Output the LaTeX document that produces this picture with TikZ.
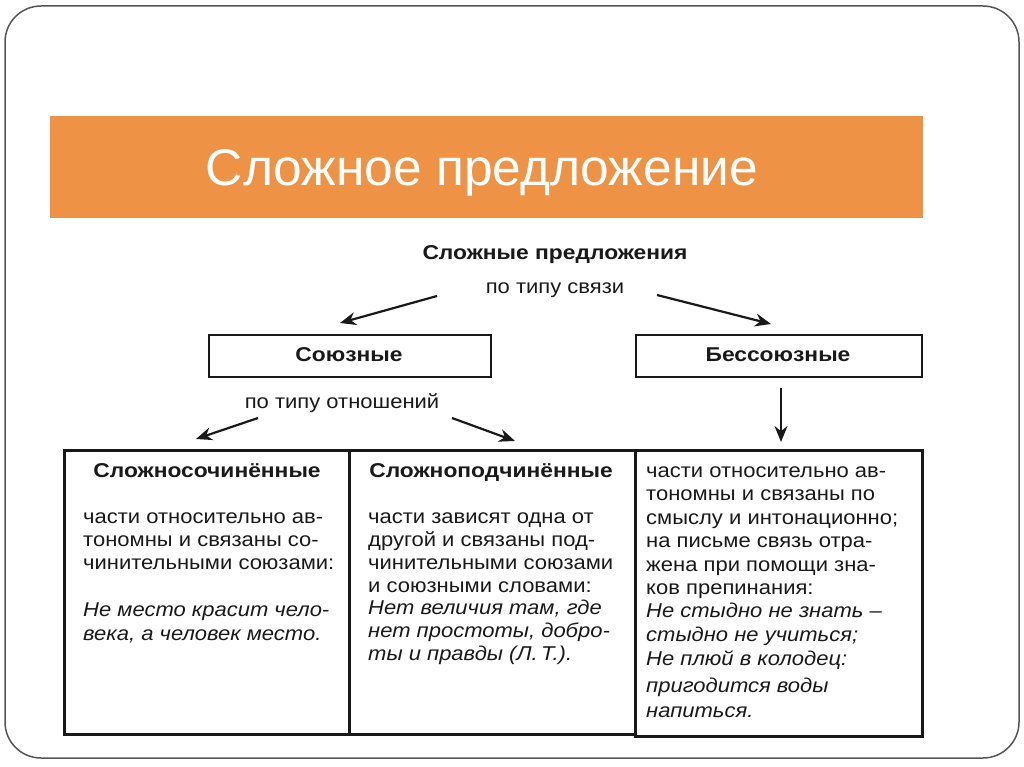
\documentclass[tikz,border=0pt]{standalone}
\usepackage{fontspec}
\setmainfont{Liberation Sans}
\newfontfamily\scan[FakeStretch=1.1]{Liberation Sans}
\newfontfamily\scanb[FakeStretch=1.14]{Liberation Sans}
\usetikzlibrary{arrows.meta}
\definecolor{orangebar}{RGB}{238,147,69}
\definecolor{ink}{RGB}{25,25,25}
\definecolor{framegray}{RGB}{85,85,85}
\begin{document}
\begin{tikzpicture}[x=1pt,y=-1pt,
  cell/.style={draw=ink, line width=2.6pt, inner sep=0pt, anchor=north west},
  lbox/.style={draw=ink, line width=2.2pt, inner sep=0pt, anchor=north west},
  arr/.style={draw=ink, line width=2.2pt, -{Stealth[length=16pt,width=13pt]}},
  txt/.style={font=\scan\fontsize{20}{23}\selectfont, text=ink, inner sep=0pt, anchor=base west},
  itx/.style={txt, font=\scan\itshape\fontsize{20}{23}\selectfont},
  hdr/.style={font=\scanb\bfseries\fontsize{20}{23}\selectfont, text=ink, inner sep=0pt, anchor=base},
  lbl/.style={font=\scan\fontsize{20}{23}\selectfont, text=ink, inner sep=0pt, anchor=base}]
\useasboundingbox (0,0) rectangle (1024,767);
\draw[framegray, line width=1.5pt, rounded corners=36pt] (5,6) rectangle (1019,758);
\node[fill=orangebar, minimum width=873pt, minimum height=102pt, inner sep=0pt, anchor=north west] (bar) at (50,116) {};
\node[text=white, font=\fontsize{51.5}{60}\selectfont, inner sep=0pt] (title) at (482,173) {Сложное предложение};

% top labels
\node[hdr] (root) at (555,259) {Сложные предложения};
\node[lbl] (svyaz) at (555,293) {по типу связи};
\node[lbox, minimum width=282pt, minimum height=42pt] (soyuz) at (208,334) {};
\node[hdr] (soyuzt) at (349,361) {Союзные};
\node[lbox, minimum width=286pt, minimum height=42pt] (bessoyuz) at (635,334) {};
\node[hdr] (bessoyuzt) at (778,361) {Бессоюзные};
\node[lbl] (otnosh) at (342,408) {по типу отношений};

% table cells
\node[cell, minimum width=285pt, minimum height=284pt] (c1) at (63,449) {};
\node[cell, minimum width=286pt, minimum height=284pt] (c2) at (348,449) {};
\node[cell, minimum width=287pt, minimum height=286pt] (c3) at (634,449) {};

% arrows
\coordinate (a1s) at (437,296); \coordinate (a1e) at (340,323);
\coordinate (a2s) at (657,295); \coordinate (a2e) at (771,324);
\coordinate (a3s) at (258,418); \coordinate (a3e) at (196,439);
\coordinate (a4s) at (452,418); \coordinate (a4e) at (515,441);
\coordinate (a5s) at (781,388); \coordinate (a5e) at (781,442);
\draw[arr] (a1s) -- (a1e);
\draw[arr] (a2s) -- (a2e);
\draw[arr] (a3s) -- (a3e);
\draw[arr] (a4s) -- (a4e);
\draw[arr] (a5s) -- (a5e);

% column 1
\node[hdr] (h1) at (207,477) {Сложносочинённые};
\foreach \s [count=\i] in {{части относительно ав-},{тономны и связаны со-},{чинительными союзами:}}
  \node[txt] (p\i) at (83,{523+23*(\i-1)}) {\s};
\node[itx] (e1) at (83,616) {Не место красит чело-};
\node[itx] (e2) at (83,640) {века, а человек место.};

% column 2
\node[hdr] (h2) at (491,477) {Сложноподчинённые};
\foreach \s [count=\i] in {{части зависят одна от},{другой и связаны под-},{чинительными союзами},{и союзными словами:}}
  \node[txt] (q\i) at (368,{523+23*(\i-1)}) {\s};
\foreach \s [count=\i] in {{Нет величия там, где},{нет простоты, добро-},{ты и правды (Л.\,Т.).}}
  \node[itx] (f\i) at (368,{614+23*(\i-1)}) {\s};

% column 3
\foreach \s [count=\i] in {{части относительно ав-},{тономны и связаны по},{смыслу и интонационно;},{на письме связь отра-},{жена при помощи зна-},{ков препинания:}}
  \node[txt] (r\i) at (646,{477+23.5*(\i-1)}) {\s};
\node[itx] (g1) at (646,617) {Не стыдно не знать –};
\node[itx] (g2) at (646,641) {стыдно не учиться;};
\node[itx] (g3) at (646,665) {Не плюй в колодец:};
\node[itx] (g4) at (646,692) {пригодится воды};
\node[itx] (g5) at (646,717) {напиться.};
\end{tikzpicture}
\end{document}
